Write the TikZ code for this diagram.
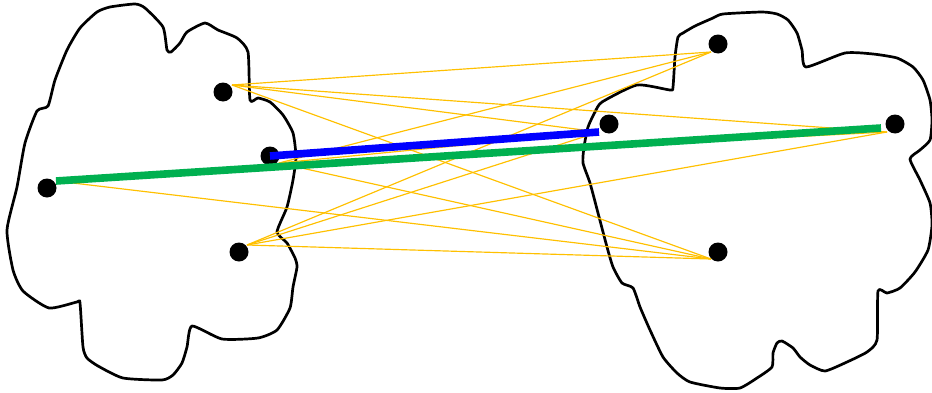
\documentclass[tikz,border=0pt]{standalone}
\usepackage{xcolor}
\usepackage{tikz}
\usetikzlibrary{positioning}

\definecolor{edgeyellow}{HTML}{FFC000}
\definecolor{matchgreen}{HTML}{00B050}

\begin{document}
\begin{tikzpicture}[
	x=0.03cm,
	y=-0.03cm,
	vertex/.style={
		circle,
		fill=black,
		inner sep=0pt,
		minimum size=0.57cm
	},
	region/.style={
		draw=black,
		line width=2.3pt,
		line join=round
	},
	edge/.style={
		draw=edgeyellow,
		line width=1pt
	},
	match_blue/.style={
		draw=blue,
		line width=6.5pt
	},
	match_green/.style={
		draw=matchgreen,
		line width=6.5pt
	}
	]
	\useasboundingbox (0,0) rectangle (932,392);
	
	% left region
	\draw[region] plot[smooth cycle, tension=0.35] coordinates {
		(135,4) (145,8) (163,27) (167,50) (171,52) (180,43) (187,32) (205,23)
		(218,30) (237,38) (248,52) (250,100) (258,98) (270,102) (283,115)
		(293,133) (296,157) (293,180) (287,207) (277,232) (287,243) (295,258)
		(297,267) (293,287) (290,308) (277,330) (258,338) (222,339) (192,326)
		(187,347) (182,363) (173,375) (162,380) (123,378) (98,366) (87,358)
		(83,347) (80,303) (77,302) (49,308) (23,291) (13,270) (7,230) (17,187)
		(25,143) (37,111) (48,106) (55,80) (67,50) (80,28) (97,12) (110,7)};
	
	% right region
	\draw[region] plot[smooth cycle, tension=0.35] coordinates {
		(723,14) (762,12) (777,14) (788,20) (797,33) (802,50) (806,67) (845,53)
		(873,54) (897,58) (913,67) (923,80) (930,100) (932,120) (930,140)
		(920,150) (910,159) (920,180) (930,203) (932,225) (928,250) (915,272)
		(900,288) (887,293) (878,291) (877,340) (867,352) (847,362) (825,371)
		(810,365) (800,357) (793,348) (782,341) (777,343) (773,353) (772,367)
		(757,378) (740,388) (720,388) (690,382) (677,373) (663,357) (650,330)
		(640,307) (633,288) (622,283) (613,267) (607,247) (598,213) (590,183)
		(583,163) (584,147) (588,127) (595,112) (602,102) (637,85) (670,90)
		(673,87) (675,57) (678,37) (683,33) (695,26) (713,18)};
	
	% vertices
	\node (a1) [vertex] at (223,92) {};
	\node (b1) [vertex] at (270,156) {};
	\node (c1) [vertex] at (47,188) {};
	\node (d1) [vertex] at (239,252) {};
	\node (e1) [vertex] at (718,44) {};
	\node (f1) [vertex] at (609,124) {};
	\node (g1) [vertex] at (895,124) {};
	\node (h1) [vertex] at (718,252) {};
	
	% edge ends
	\coordinate (a1p) at ([shift={(9,-7)}]a1);
	\coordinate (b1p) at ([shift={(9,7)}]b1);
	\coordinate (c1p) at ([shift={(9,-7)}]c1);
	\coordinate (d1p) at ([shift={(8,-7)}]d1);
	\coordinate (e1p) at ([shift={(-7,8)}]e1);
	\coordinate (f1p) at ([shift={(-10,8)}]f1);
	\coordinate (g1p) at ([shift={(-8,8)}]g1);
	\coordinate (h1p) at ([shift={(-7,7)}]h1);
	\coordinate (g1s) at ([shift={(-14,4)}]g1);
	
	% edges
	\draw[edge] (a1p) -- (e1p);
	\draw[edge] (a1p) -- (f1p);
	\draw[edge] (a1p) -- (g1p);
	\draw[edge] (a1p) -- (h1p);
	\draw[edge] (b1p) -- (e1p);
	\draw[edge] (b1p) -- (f1p);
	\draw[edge] (b1p) -- (g1p);
	\draw[edge] (b1p) -- (h1p);
	\draw[edge] (c1p) -- (h1p);
	\draw[edge] (d1p) -- (e1p);
	\draw[edge] (d1p) -- (f1p);
	\draw[edge] (d1p) -- (g1p);
	\draw[edge] (d1p) -- (h1p);
	
	% matching
	\draw[match_blue] (b1.center) -- (f1p);
	\draw[match_green] (c1p) -- (g1s);
	
\end{tikzpicture}
\end{document}
